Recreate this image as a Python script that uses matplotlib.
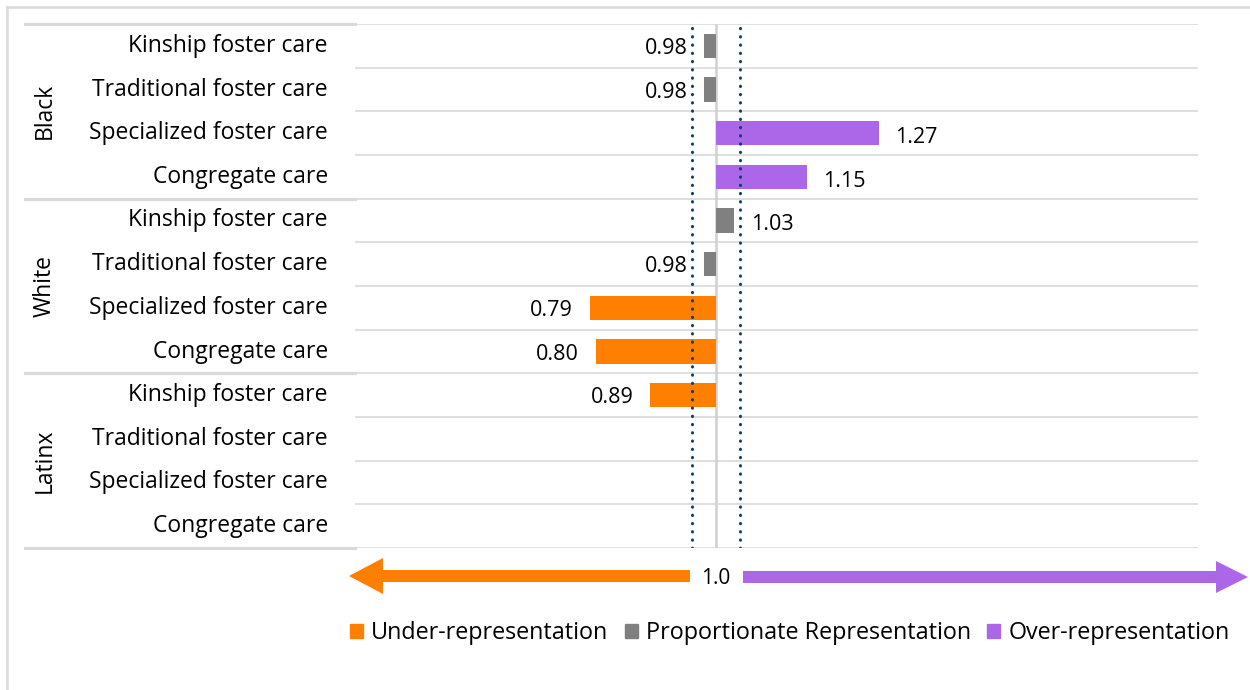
import numpy as np
import matplotlib
matplotlib.use("Agg")
import matplotlib.pyplot as plt
from matplotlib.lines import Line2D
from matplotlib.patches import Patch, FancyArrow
import matplotlib.transforms as mtransforms

plt.rcParams['font.family'] = ['Open Sans', 'DejaVu Sans']

groups = ["Black", "White", "Latinx"]
settings = ["Kinship foster care", "Traditional foster care",
            "Specialized foster care", "Congregate care"]
black_vals = [0.98, 0.98, 1.27, 1.15]
white_vals = [1.03, 0.98, 0.79, 0.80]
latinx_vals = [0.89, np.nan, np.nan, np.nan]
band_low, band_high = 0.96, 1.04
legend_labels = ["Under-representation", "Proportionate Representation", "Over-representation"]

COL_UNDER = "#FF8000"
COL_PROP = "#808080"
COL_OVER = "#AB67E8"
GRID = "#D9D9D9"
DOT = "#0B3F6B"

W, H = 1250, 690
fig = plt.figure(figsize=(W / 100, H / 100), dpi=100)
ax = fig.add_axes([355 / W, 1 - 548 / H, (1198 - 355) / W, (548 - 24) / H])

values = black_vals + white_vals + latinx_vals
n = len(values)
ypos = np.arange(n)

def colour(v):
    if v < band_low:
        return COL_UNDER
    if v > band_high:
        return COL_OVER
    return COL_PROP

for y, v in zip(ypos, values):
    if np.isnan(v):
        continue
    ax.barh(y, v - 1.0, left=1.0, height=0.55, color=colour(v), zorder=3)
    if v < 1:
        ax.annotate(f"{v:.2f}", (v, y), xytext=(-12, -2), textcoords="offset points",
                    ha="right", va="center", fontsize=15.5, color="black", zorder=4)
    else:
        ax.annotate(f"{v:.2f}", (v, y), xytext=(12, -3), textcoords="offset points",
                    ha="left", va="center", fontsize=15.5, color="black", zorder=4)

ax.set_xlim(0.4, 1.8)
ax.set_ylim(n - 0.5, -0.5)
for b in np.arange(n + 1) - 0.5:
    ax.axhline(b, color=GRID, lw=1.2, zorder=1)
ax.axvline(1.0, color="#D0D0D0", lw=1.8, zorder=2)
ax.axvline(band_low, color=DOT, lw=2.2, ls=(0, (0.1, 2.6)), dash_capstyle="round", zorder=5)
ax.axvline(band_high, color=DOT, lw=2.2, ls=(0, (0.1, 2.6)), dash_capstyle="round", zorder=5)
for s in ax.spines.values():
    s.set_visible(False)
ax.set_xticks([])
ax.set_yticks([])

# category and group labels
trans = mtransforms.blended_transform_factory(fig.transFigure, ax.transData)
for gi, g in enumerate(groups):
    for si, s in enumerate(settings):
        y = gi * len(settings) + si
        fig.text(328 / W, y, s, transform=trans, ha="right", va="center", fontsize=16.5)
    mid = gi * len(settings) + (len(settings) - 1) / 2
    fig.text(45 / W, mid, g, transform=trans, ha="center", va="center",
             rotation=90, fontsize=16.5)
    for b in (gi * len(settings) - 0.5, (gi + 1) * len(settings) - 0.5):
        fig.add_artist(Line2D([25 / W, 355 / W], [b, b], transform=trans,
                              color=GRID, lw=2.2))

# outer frame
fig.add_artist(Line2D([7 / W, 7 / W], [0, 1 - 7 / H], color=GRID, lw=1.8))
fig.add_artist(Line2D([7 / W, 1], [1 - 7 / H, 1 - 7 / H], color=GRID, lw=1.8))

# direction arrows
ov = fig.add_axes([0, 0, 1, 1], facecolor="none")
ov.set_xlim(0, W)
ov.set_ylim(H, 0)
ov.axis("off")
ov.add_patch(FancyArrow(690, 576, -(690 - 349), 0, width=12, head_width=36,
                        head_length=34, length_includes_head=True,
                        color=COL_UNDER, lw=0))
ov.add_patch(FancyArrow(743, 577, 1248 - 743, 0, width=12, head_width=32,
                        head_length=32, length_includes_head=True,
                        color=COL_OVER, lw=0))
ov.text(716, 579, "1.0", ha="center", va="center", fontsize=15)

handles = [Patch(color=c) for c in (COL_UNDER, COL_PROP, COL_OVER)]
fig.legend(handles, legend_labels, ncol=3, loc="center", bbox_to_anchor=(790 / W, 1 - 633 / H),
           frameon=False, fontsize=16.8, handlelength=0.55, handleheight=0.55,
           handletextpad=0.35, columnspacing=0.7)

fig.savefig("out.png", dpi=100)
